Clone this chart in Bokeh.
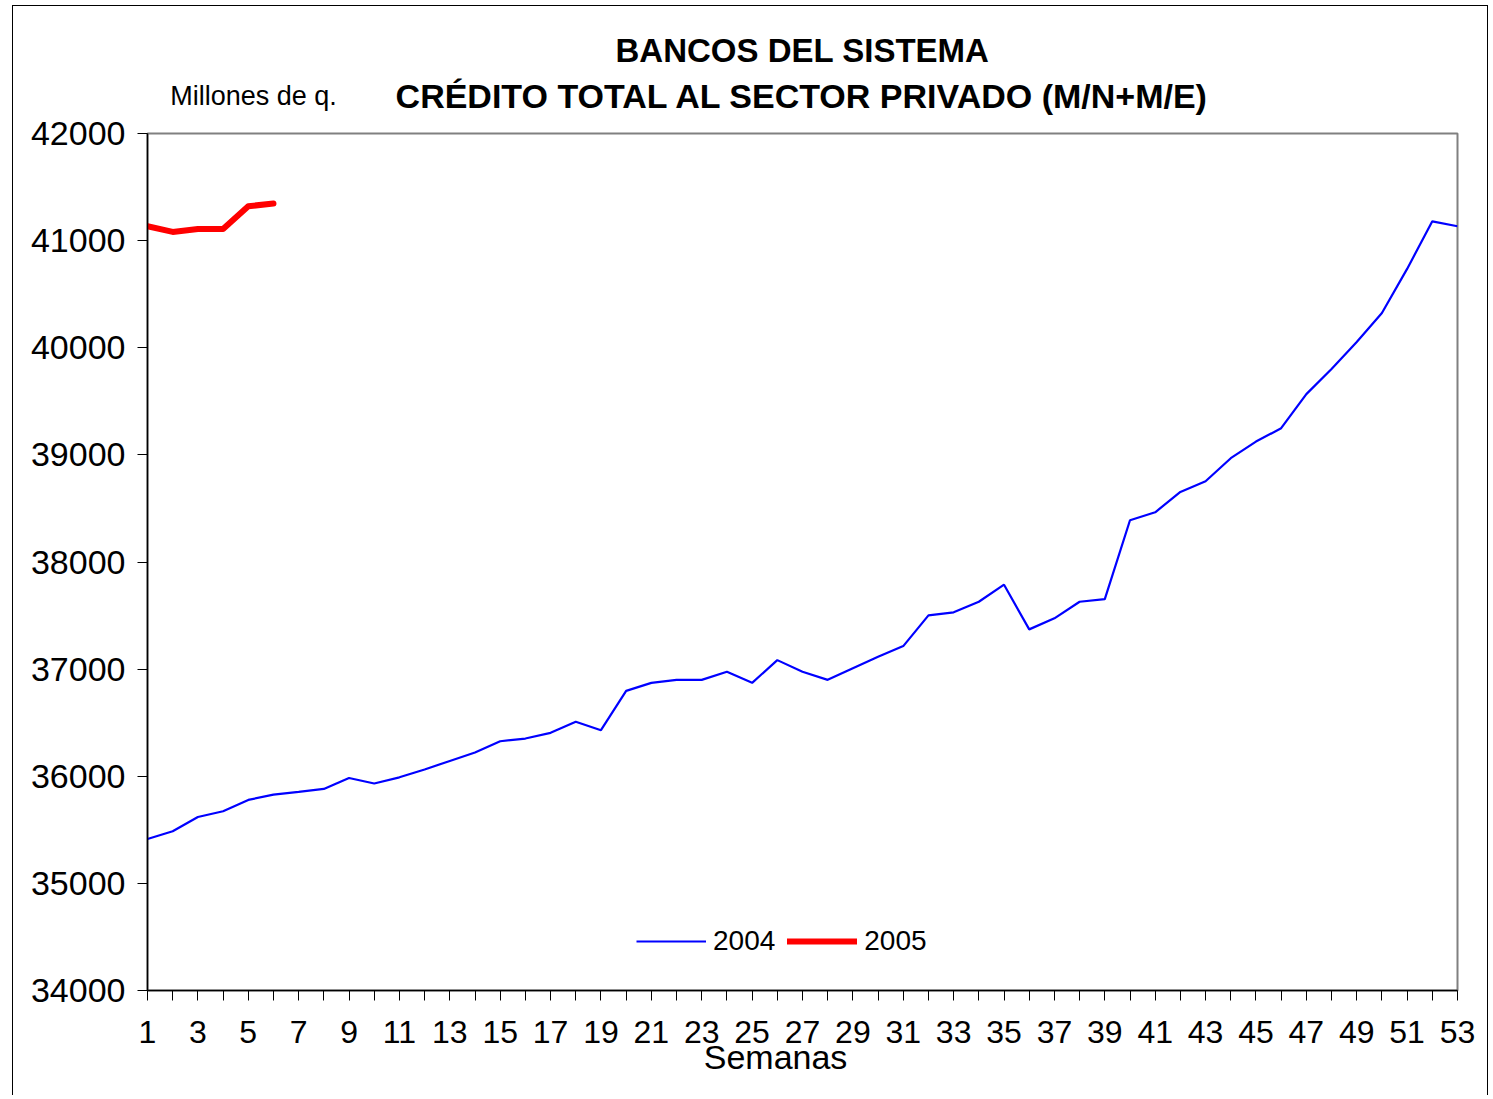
from bokeh.plotting import figure
from bokeh.models import (Title, Legend, LegendItem, FixedTicker, Range1d,
                          LinearAxis, CustomJSTickFormatter)
from bokeh.embed import file_html
from bokeh.resources import INLINE

weeks_2004 = list(range(1, 54))
credit_2004 = [35414, 35486, 35620, 35673, 35779, 35829, 35854, 35882, 35984, 35932,
               35990, 36063, 36143, 36221, 36327, 36352, 36405, 36508, 36430, 36797,
               36872, 36900, 36900, 36975, 36872, 37084, 36975, 36900, 37009, 37115,
               37215, 37502, 37530, 37629, 37788, 37371, 37474, 37629, 37654, 38390,
               38464, 38654, 38754, 38969, 39124, 39249, 39567, 39801, 40053, 40324,
               40736, 41180, 41134]
weeks_2005 = [1, 2, 3, 4, 5, 6]
credit_2005 = [41134, 41081, 41109, 41109, 41321, 41346]

x_ticks = list(range(1, 54, 2))
x_minor = list(range(2, 54, 2))
y_ticks = list(range(34000, 42001, 1000))

title_1 = "BANCOS DEL SISTEMA"
title_2 = "CRÉDITO TOTAL AL SECTOR PRIVADO (M/N+M/E)"
units_text = "Millones de q."
x_title = "Semanas"

FONT = "Liberation Sans"

p = figure(width=1476, height=1090, output_backend="svg", toolbar_location=None,
           title=None, x_range=Range1d(1, 53), y_range=Range1d(34000, 42000),
           min_border_left=134, min_border_right=32, min_border_top=127,
           min_border_bottom=106)
p.styles = {"margin-left": "12px", "margin-top": "5px",
            "border-left": "1.5px solid black", "border-top": "1.5px solid black",
            "border-right": "1.5px solid black"}
p.background_fill_color = "white"
p.border_fill_color = "white"
p.outline_line_color = "#808080"
p.outline_line_width = 2
p.grid.visible = False

r04 = p.line(weeks_2004, credit_2004, line_color="#0000FF", line_width=2.2)
r05 = p.line(weeks_2005, credit_2005, line_color="#FF0000", line_width=6,
             line_cap="round", line_join="round")

# x axis
xa = p.xaxis[0]
xa.ticker = FixedTicker(ticks=x_ticks, minor_ticks=x_minor)
xa.axis_line_color = "black"
xa.axis_line_width = 1.5
xa.major_tick_line_color = "black"
xa.minor_tick_line_color = "black"
xa.major_tick_out = 10
xa.major_tick_in = 0
xa.minor_tick_out = 10
xa.minor_tick_in = 0
xa.major_label_text_font = FONT
xa.major_label_text_font_size = "32px"
xa.major_label_text_color = "black"
xa.major_label_standoff = 20

# x-axis title, placed off-centre as in the original (left of frame centre)
xt = LinearAxis(ticker=FixedTicker(ticks=[25.93], minor_ticks=[]),
                formatter=CustomJSTickFormatter(code="return %r;" % x_title),
                axis_line_color=None, major_tick_line_color=None,
                minor_tick_line_color=None, major_tick_out=0, major_tick_in=0,
                minor_tick_out=0, minor_tick_in=0,
                major_label_text_font=FONT, major_label_text_font_size="34px",
                major_label_text_color="black", major_label_standoff=-8)
p.add_layout(xt, "below")

# y axis
ya = p.yaxis[0]
ya.ticker = FixedTicker(ticks=y_ticks, minor_ticks=[])
ya.axis_line_color = "black"
ya.axis_line_width = 1.5
ya.major_tick_line_color = "black"
ya.major_tick_out = 10
ya.major_tick_in = 0
ya.minor_tick_out = 0
ya.minor_tick_in = 0
ya.major_label_text_font = FONT
ya.major_label_text_font_size = "34px"
ya.major_label_text_color = "black"
ya.major_label_standoff = 12
ya.formatter = CustomJSTickFormatter(code="return tick.toFixed(0);")

# top text row: units note (as tick label) + second title line (as axis label)
top = LinearAxis(ticker=FixedTicker(ticks=[5.21], minor_ticks=[]),
                 formatter=CustomJSTickFormatter(code="return %r;" % units_text),
                 axis_line_color=None, major_tick_line_color=None,
                 minor_tick_line_color=None, major_tick_out=0, major_tick_in=0,
                 minor_tick_out=0, minor_tick_in=0,
                 major_label_text_font=FONT, major_label_text_font_size="27px",
                 major_label_text_color="black", major_label_standoff=23,
                 axis_label=title_2, axis_label_text_font=FONT,
                 axis_label_text_font_size="34px", axis_label_text_font_style="bold",
                 axis_label_text_color="black", axis_label_standoff=-37)
p.add_layout(top, "above")

t1 = Title(text=title_1, align="center", text_font=FONT, text_font_size="33px",
           text_font_style="bold", text_color="black", standoff=10)
p.add_layout(t1, "above")

legend = Legend(items=[LegendItem(label="2004", renderers=[r04]),
                       LegendItem(label="2005", renderers=[r05])],
                orientation="horizontal", location=(489, 33),
                label_text_font=FONT, label_text_font_size="28px",
                label_text_color="black", glyph_width=70, glyph_height=30,
                label_standoff=7, spacing=12, padding=0, margin=0,
                border_line_color=None, background_fill_alpha=0)
p.add_layout(legend, "center")

open("out.html", "w").write(file_html(p, INLINE))
